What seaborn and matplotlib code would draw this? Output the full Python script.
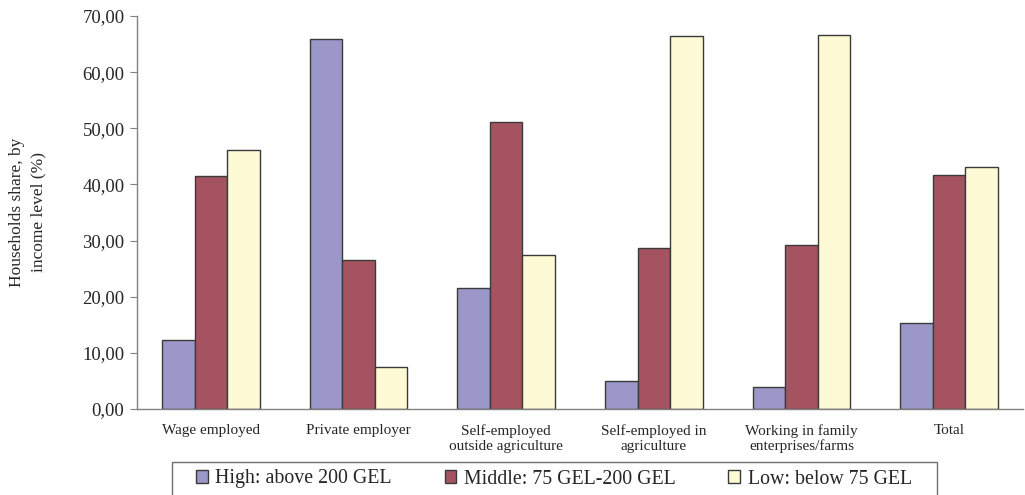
import matplotlib
matplotlib.use("Agg")
import matplotlib.pyplot as plt
from matplotlib.patches import Rectangle
from matplotlib.ticker import FixedLocator, FuncFormatter
import seaborn as sns
import pandas as pd

categories = [
    "Wage employed",
    "Private employer",
    "Self-employed\noutside agriculture",
    "Self-employed in\nagriculture",
    "Working in family\nenterprises/farms",
    "Total",
]
series_names = ["High: above 200 GEL", "Middle: 75 GEL-200 GEL", "Low: below 75 GEL"]
high = [12.3, 65.9, 21.6, 5.0, 4.0, 15.4]
middle = [41.5, 26.6, 51.2, 28.6, 29.3, 41.6]
low = [46.2, 7.5, 27.4, 66.5, 66.7, 43.1]
colors = ["#9B97C8", "#A65361", "#FFFAD6"]

rows = []
for name, vals in zip(series_names, [high, middle, low]):
    for cat, v in zip(categories, vals):
        rows.append({"category": cat, "group": name, "share": v})
df = pd.DataFrame(rows)

sns.set_style("white")
plt.rcParams["font.family"] = ["Liberation Serif", "DejaVu Serif"]

W, H = 1025, 495
fig = plt.figure(figsize=(W / 100, H / 100), dpi=100)
ax = fig.add_axes([137 / W, 86 / H, 886 / W, 393 / H])

sns.barplot(
    data=df, x="category", y="share", hue="group",
    order=categories, hue_order=series_names,
    palette=colors, width=0.66, gap=0, dodge=True,
    edgecolor="#3a3a3a", linewidth=1.0, saturation=1.0,
    errorbar=None, ax=ax, legend=True,
)

ax.set_xlim(-0.5, len(categories) - 0.5)
ax.set_ylim(0, 70)
ax.set_yticks(range(0, 71, 10))
ax.yaxis.set_major_formatter(FuncFormatter(lambda v, _: f"{v:.2f}".replace(".", ",")))

# category boundaries carry the tick marks, labels sit at the centres
ax.xaxis.set_major_locator(FixedLocator([i + 0.5 for i in range(len(categories))]))
ax.xaxis.set_minor_locator(FixedLocator(list(range(len(categories)))))
ax.set_xticklabels([""] * len(categories))
ax.set_xticklabels(categories, minor=True)
ax.tick_params(axis="x", which="major", length=5, width=0.8, color="#808080", direction="out")
ax.tick_params(axis="x", which="minor", length=0, pad=11, labelsize=11)
ax.tick_params(axis="y", which="major", length=5, width=0.8, color="#808080",
               direction="out", labelsize=13.5, pad=4, left=True)
for lbl in ax.get_xticklabels(minor=True):
    lbl.set_verticalalignment("top")
    lbl.set_linespacing(1.15)

for side in ["top", "right"]:
    ax.spines[side].set_visible(False)
for side in ["left", "bottom"]:
    ax.spines[side].set_color("#808080")
    ax.spines[side].set_linewidth(1.0)

ax.set_xlabel("")
ax.set_ylabel("Households share, by\nincome level (%)", fontsize=12.5, labelpad=26,
              linespacing=1.45)

# legend entries without their own frame; the box is drawn separately
handles, labels = ax.get_legend_handles_labels()
ax.get_legend().remove()
fig.legend(
    handles, labels, ncol=3, loc="center left",
    bbox_to_anchor=(196 / W, 1 - 479 / H), borderaxespad=0, borderpad=0,
    frameon=False, fontsize=14.3,
    handlelength=0.58, handleheight=0.58, handletextpad=0.4,
    columnspacing=2.65,
)
fig.patches.append(Rectangle((172 / W, -10 / H), 765 / W, (10 + 495 - 462) / H,
                             transform=fig.transFigure, fill=False,
                             edgecolor="#707070", linewidth=1.0))

fig.savefig("out.png", dpi=100)
